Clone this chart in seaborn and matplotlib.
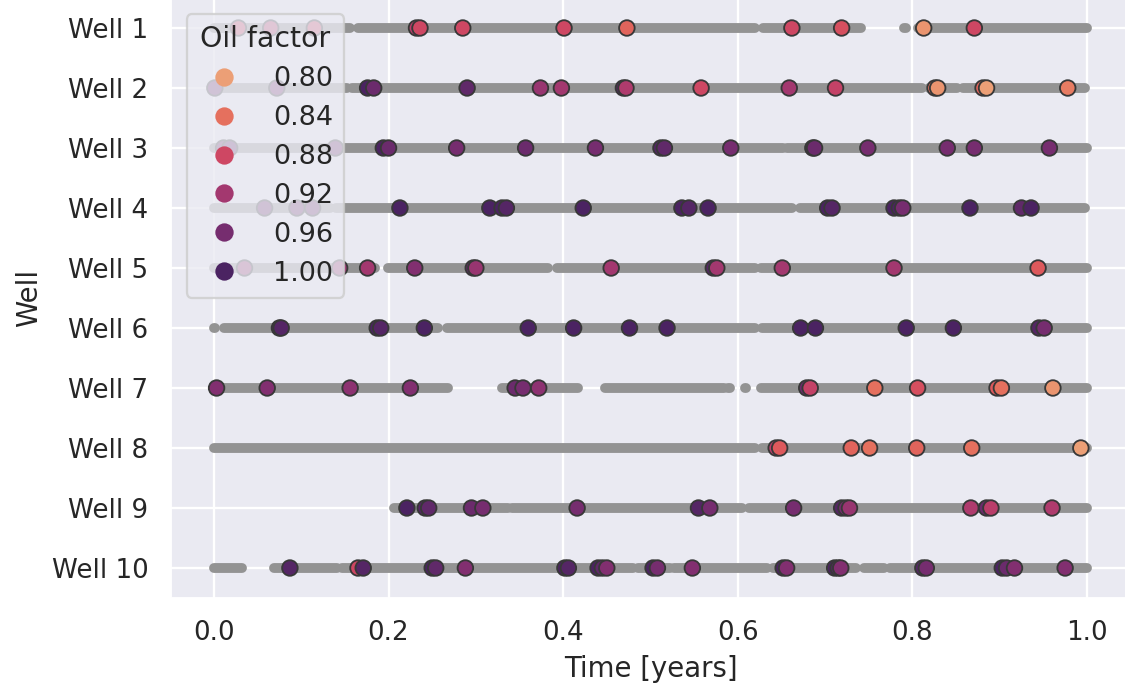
import numpy as np
import pandas as pd
import matplotlib
matplotlib.use("Agg")
import matplotlib.pyplot as plt
import seaborn as sns

# ---- data -------------------------------------------------------------
wells = [f"Well {i}" for i in range(1, 11)]

# periods with continuous production records per well (start, end) in years
coverage = [
    [(0.0, 0.156), (0.165, 0.620), (0.629, 0.741), (0.791, 0.793), (0.807, 1.0)],
    [(0.0, 0.152), (0.158, 0.811), (0.819, 0.851), (0.858, 0.998)],
    [(0.0, 0.652), (0.656, 1.0)],
    [(0.0, 0.133), (0.140, 0.662), (0.671, 0.993), (0.996, 0.998)],
    [(0.0, 0.184), (0.199, 0.383), (0.393, 0.620), (0.627, 1.0)],
    [(0.0, 0.001), (0.011, 0.257), (0.267, 0.620), (0.628, 1.0)],
    [(0.0, 0.268), (0.330, 0.417), (0.448, 0.584), (0.589, 0.591),
     (0.608, 0.610), (0.627, 1.0)],
    [(0.0, 0.620), (0.628, 1.0)],
    [(0.206, 0.337), (0.341, 0.605), (0.613, 1.0)],
    [(0.0, 0.032), (0.069, 0.141), (0.147, 0.480), (0.486, 0.522),
     (0.527, 0.634), (0.640, 0.736), (0.745, 0.767), (0.774, 1.0)],
]

# sampled events: time [years] and measured oil factor
event_time = [
    [0.028, 0.065, 0.115, 0.232, 0.236, 0.285, 0.401, 0.473, 0.662, 0.719, 0.813, 0.871],
    [0.001, 0.072, 0.176, 0.183, 0.290, 0.374, 0.398, 0.469, 0.472, 0.558, 0.659,
     0.712, 0.826, 0.829, 0.881, 0.885, 0.978],
    [0.011, 0.018, 0.139, 0.194, 0.200, 0.278, 0.357, 0.437, 0.512, 0.516, 0.592,
     0.686, 0.688, 0.749, 0.840, 0.871, 0.957],
    [0.058, 0.095, 0.113, 0.213, 0.316, 0.330, 0.335, 0.423, 0.536, 0.544, 0.566,
     0.703, 0.708, 0.779, 0.785, 0.789, 0.866, 0.925, 0.936],
    [0.035, 0.144, 0.176, 0.230, 0.297, 0.300, 0.455, 0.572, 0.576, 0.651, 0.779, 0.944],
    [0.075, 0.077, 0.187, 0.191, 0.241, 0.360, 0.412, 0.476, 0.519, 0.672, 0.689,
     0.793, 0.847, 0.945, 0.951],
    [0.003, 0.061, 0.156, 0.225, 0.345, 0.354, 0.372, 0.679, 0.683, 0.757, 0.806,
     0.897, 0.902, 0.961],
    [0.644, 0.648, 0.730, 0.751, 0.805, 0.868, 0.993],
    [0.221, 0.242, 0.246, 0.295, 0.308, 0.416, 0.555, 0.568, 0.664, 0.719, 0.724,
     0.728, 0.867, 0.885, 0.890, 0.960],
    [0.087, 0.165, 0.171, 0.250, 0.254, 0.288, 0.402, 0.406, 0.440, 0.445, 0.450,
     0.503, 0.508, 0.548, 0.652, 0.656, 0.711, 0.715, 0.718, 0.812, 0.816, 0.903,
     0.908, 0.917, 0.975],
]
event_factor = [
    [0.88, 0.90, 0.88, 0.90, 0.88, 0.88, 0.88, 0.85, 0.88, 0.87, 0.81, 0.88],
    [0.97, 0.96, 1.00, 0.97, 0.98, 0.93, 0.92, 0.99, 0.91, 0.88, 0.92,
     0.89, 0.84, 0.81, 0.85, 0.80, 0.83],
    [0.97, 0.98, 0.97, 1.00, 0.97, 0.96, 0.97, 0.96, 0.99, 0.98, 0.96,
     0.99, 0.97, 0.96, 0.96, 0.96, 0.96],
    [0.97, 0.97, 0.97, 1.00, 1.00, 1.00, 0.99, 1.00, 1.00, 0.99, 1.00,
     1.00, 0.99, 1.00, 1.00, 0.96, 1.00, 0.98, 1.00],
    [0.93, 0.93, 0.92, 0.95, 0.98, 0.93, 0.92, 0.99, 0.92, 0.92, 0.92, 0.86],
    [1.00, 0.99, 1.00, 0.99, 1.00, 1.00, 1.00, 1.00, 1.00, 1.00, 1.00,
     1.00, 1.00, 0.99, 0.96],
    [0.95, 0.95, 0.94, 0.95, 0.97, 0.96, 0.94, 0.97, 0.89, 0.84, 0.87,
     0.86, 0.84, 0.81],
    [0.90, 0.86, 0.85, 0.84, 0.85, 0.84, 0.80],
    [1.00, 0.99, 0.98, 0.97, 0.96, 0.96, 0.99, 0.96, 0.96, 0.99, 0.96,
     0.93, 0.91, 0.97, 0.90, 0.91],
    [0.99, 0.88, 0.99, 1.00, 0.98, 0.95, 1.00, 0.99, 1.00, 0.98, 0.95,
     1.00, 0.96, 0.95, 1.00, 0.95, 1.00, 0.99, 0.95, 0.99, 0.96, 1.00,
     0.97, 0.95, 0.95],
]

# ---- tidy tables -------------------------------------------------------
events = pd.DataFrame({
    "Well": np.repeat(wells, [len(t) for t in event_time]),
    "Time [years]": np.concatenate(event_time),
    "Oil factor": np.concatenate(event_factor),
})
spans = pd.DataFrame(
    [(w, s, e) for w, segs in zip(wells, coverage) for s, e in segs],
    columns=["Well", "start", "end"],
)

# ---- plot --------------------------------------------------------------
sns.set_theme(style="darkgrid", context="notebook",
              rc={"xtick.labelsize": 11.4, "ytick.labelsize": 11.4})
dpi = 165
fig = plt.figure(figsize=(1125 / dpi, 689 / dpi), dpi=dpi)
ax = fig.add_axes([170.3 / 1125, 91 / 689, 960.3 / 1125, 600 / 689])

# establish the categorical order of the wells on the y axis
ax.scatter([0.5] * len(wells), wells, s=0, alpha=0)

ax.hlines(spans["Well"], spans["start"], spans["end"], colors="#939393",
          linewidth=4.3, capstyle="round", zorder=1)

sns.scatterplot(
    data=events, x="Time [years]", y="Well", hue="Oil factor",
    palette="flare", hue_norm=(0.785, 1.0), s=46,
    edgecolor="#383838", linewidth=0.8, zorder=3, ax=ax,
)

ax.set_xlim(-0.05, 1.05)
ax.set_ylim(9.5, -0.5)
ax.set_xticks([0.0, 0.2, 0.4, 0.6, 0.8, 1.0])

leg = ax.legend(title="Oil factor", loc="upper left", fontsize=11.8,
                title_fontsize=12.4, labelspacing=0.48,
                borderaxespad=0.6)
for h in leg.legend_handles:
    if hasattr(h, "set_sizes"):
        h.set_sizes([62])
        h.set_edgecolor("face")
        h.set_linewidth(0)
    else:
        h.set_markersize(8.0)
        h.set_markeredgewidth(0)

fig.savefig("out.png", dpi=dpi)
